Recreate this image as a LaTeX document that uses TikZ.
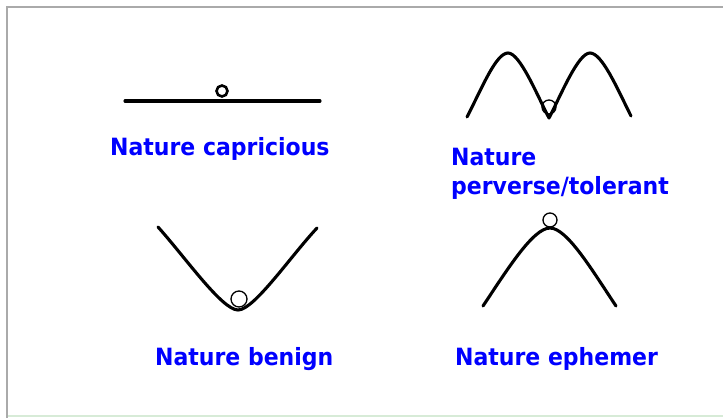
\documentclass[tikz,border=0pt]{standalone}
\usepackage{fontspec}
\newfontfamily\labelfont{DejaVu Sans}
\definecolor{frame1}{RGB}{170, 170, 170}
\definecolor{base1}{RGB}{215, 235, 215}
\definecolor{label1}{RGB}{0, 0, 255}
\usetikzlibrary{positioning}

\tikzset{
  curve/.style={line width=3.1pt, line cap=round, line join=round},
  ball/.style={line width=1.3pt},
  lbl/.style={text=label1, font=\labelfont\bfseries\fontsize{22}{28}\selectfont, inner sep=0pt, anchor=base west, align=left}
}

\begin{document}
\begin{tikzpicture}[x=1pt, y=-1pt]
  \useasboundingbox (0,0) rectangle (723,418);
  % panel frame
  \draw[frame1, line width=2.5pt] (7,418) -- (7,7) -- (723,7);
  \draw[base1, line width=1.5pt] (8,416) -- (723,416);

  % capricious
  \draw[curve] (125,101) -- (320,101);
  \draw[ball, line width=2.6pt] (222,91) circle (5.5);
  \node[lbl] (capricious) at (110,155) {\scalebox{1}[1.08]{Nature capricious}};

  % perverse/tolerant
  \draw[curve] (467,117) .. controls (482,88) and (496,53) .. (508,53)
    .. controls (520,53) and (537,95) .. (549,118)
    .. controls (561,95) and (578,53) .. (590,53)
    .. controls (602,53) and (617,88) .. (631,116);
  \draw[ball] (549,107) circle (7);
  \node[lbl] (perverse) at (451,194) {\scalebox{1}[1.08]{Nature}\\[1pt]\scalebox{1}[1.08]{perverse/tolerant}};

  % benign
  \draw[curve] (158,227) .. controls (185,257) and (222,310) .. (238,310)
    .. controls (254,310) and (290,257) .. (317,228);
  \draw[ball] (239,299) circle (8);
  \node[lbl] (benign) at (155,365) {\scalebox{1}[1.08]{Nature benign}};

  % ephemer
  \draw[curve] (483,306) .. controls (507,270) and (533,228) .. (550,228)
    .. controls (567,228) and (592,270) .. (616,306);
  \draw[ball] (550,220) circle (7);
  \node[lbl] (ephemer) at (455,365) {\scalebox{1}[1.08]{Nature ephemer}};
\end{tikzpicture}
\end{document}
